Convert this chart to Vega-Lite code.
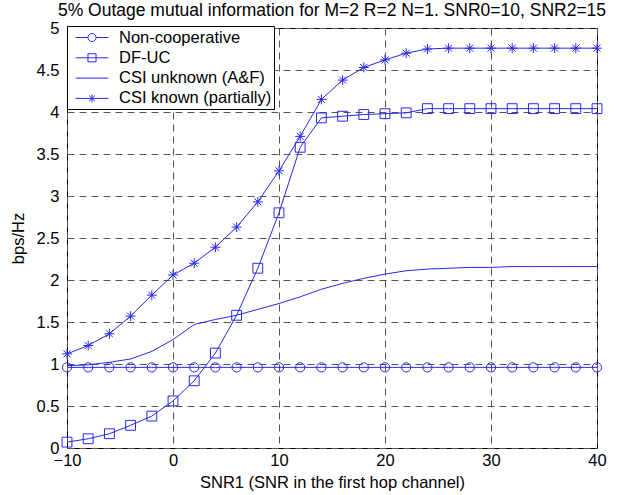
{
  "$schema": "https://vega.github.io/schema/vega-lite/v6.json",
  "autosize": {"type": "none"},
  "width": 530,
  "height": 420,
  "padding": {"left": 67, "top": 28, "right": 33, "bottom": 47},
  "background": "white",
  "title": {"text": "5% Outage mutual information for M=2 R=2 N=1. SNR0=10, SNR2=15", "font": "Liberation Sans", "fontSize": 17.5, "fontWeight": "normal", "color": "black", "offset": 1, "anchor": "middle"},
  "config": {
    "view": {"stroke": "black", "strokeWidth": 1},
    "axis": {"labelFont": "Liberation Sans", "titleFont": "Liberation Sans", "labelFontSize": 16.5, "titleFontSize": 16.5, "titleFontWeight": "normal", "labelColor": "black", "titleColor": "black", "grid": true, "gridColor": "#555555", "gridDash": [7, 5], "gridWidth": 1, "ticks": false, "domain": false, "labelFlush": false, "labelOverlap": false}
  },
  "data": {"values": [
    {"snr": -10, "series": "Non-cooperative", "v": 0.96}, {"snr": -8, "series": "Non-cooperative", "v": 0.96}, {"snr": -6, "series": "Non-cooperative", "v": 0.96}, {"snr": -4, "series": "Non-cooperative", "v": 0.96}, {"snr": -2, "series": "Non-cooperative", "v": 0.96}, {"snr": 0, "series": "Non-cooperative", "v": 0.96}, {"snr": 2, "series": "Non-cooperative", "v": 0.96}, {"snr": 4, "series": "Non-cooperative", "v": 0.96}, {"snr": 6, "series": "Non-cooperative", "v": 0.96}, {"snr": 8, "series": "Non-cooperative", "v": 0.96}, {"snr": 10, "series": "Non-cooperative", "v": 0.96}, {"snr": 12, "series": "Non-cooperative", "v": 0.96}, {"snr": 14, "series": "Non-cooperative", "v": 0.96}, {"snr": 16, "series": "Non-cooperative", "v": 0.96}, {"snr": 18, "series": "Non-cooperative", "v": 0.96}, {"snr": 20, "series": "Non-cooperative", "v": 0.96}, {"snr": 22, "series": "Non-cooperative", "v": 0.96}, {"snr": 24, "series": "Non-cooperative", "v": 0.96}, {"snr": 26, "series": "Non-cooperative", "v": 0.96}, {"snr": 28, "series": "Non-cooperative", "v": 0.96}, {"snr": 30, "series": "Non-cooperative", "v": 0.96}, {"snr": 32, "series": "Non-cooperative", "v": 0.96}, {"snr": 34, "series": "Non-cooperative", "v": 0.96}, {"snr": 36, "series": "Non-cooperative", "v": 0.96}, {"snr": 38, "series": "Non-cooperative", "v": 0.96}, {"snr": 40, "series": "Non-cooperative", "v": 0.96},
    {"snr": -10, "series": "DF-UC", "v": 0.07}, {"snr": -8, "series": "DF-UC", "v": 0.11}, {"snr": -6, "series": "DF-UC", "v": 0.17}, {"snr": -4, "series": "DF-UC", "v": 0.27}, {"snr": -2, "series": "DF-UC", "v": 0.38}, {"snr": 0, "series": "DF-UC", "v": 0.56}, {"snr": 2, "series": "DF-UC", "v": 0.8}, {"snr": 4, "series": "DF-UC", "v": 1.13}, {"snr": 6, "series": "DF-UC", "v": 1.58}, {"snr": 8, "series": "DF-UC", "v": 2.14}, {"snr": 10, "series": "DF-UC", "v": 2.8}, {"snr": 12, "series": "DF-UC", "v": 3.58}, {"snr": 14, "series": "DF-UC", "v": 3.93}, {"snr": 16, "series": "DF-UC", "v": 3.95}, {"snr": 18, "series": "DF-UC", "v": 3.97}, {"snr": 20, "series": "DF-UC", "v": 3.98}, {"snr": 22, "series": "DF-UC", "v": 3.99}, {"snr": 24, "series": "DF-UC", "v": 4.04}, {"snr": 26, "series": "DF-UC", "v": 4.04}, {"snr": 28, "series": "DF-UC", "v": 4.04}, {"snr": 30, "series": "DF-UC", "v": 4.04}, {"snr": 32, "series": "DF-UC", "v": 4.04}, {"snr": 34, "series": "DF-UC", "v": 4.04}, {"snr": 36, "series": "DF-UC", "v": 4.04}, {"snr": 38, "series": "DF-UC", "v": 4.04}, {"snr": 40, "series": "DF-UC", "v": 4.04},
    {"snr": -10, "series": "CSI unknown (A&F)", "v": 0.98}, {"snr": -8, "series": "CSI unknown (A&F)", "v": 0.99}, {"snr": -6, "series": "CSI unknown (A&F)", "v": 1.02}, {"snr": -4, "series": "CSI unknown (A&F)", "v": 1.06}, {"snr": -2, "series": "CSI unknown (A&F)", "v": 1.15}, {"snr": 0, "series": "CSI unknown (A&F)", "v": 1.29}, {"snr": 2, "series": "CSI unknown (A&F)", "v": 1.47}, {"snr": 4, "series": "CSI unknown (A&F)", "v": 1.53}, {"snr": 6, "series": "CSI unknown (A&F)", "v": 1.58}, {"snr": 8, "series": "CSI unknown (A&F)", "v": 1.65}, {"snr": 10, "series": "CSI unknown (A&F)", "v": 1.72}, {"snr": 12, "series": "CSI unknown (A&F)", "v": 1.8}, {"snr": 14, "series": "CSI unknown (A&F)", "v": 1.89}, {"snr": 16, "series": "CSI unknown (A&F)", "v": 1.96}, {"snr": 18, "series": "CSI unknown (A&F)", "v": 2.02}, {"snr": 20, "series": "CSI unknown (A&F)", "v": 2.07}, {"snr": 22, "series": "CSI unknown (A&F)", "v": 2.11}, {"snr": 24, "series": "CSI unknown (A&F)", "v": 2.13}, {"snr": 26, "series": "CSI unknown (A&F)", "v": 2.14}, {"snr": 28, "series": "CSI unknown (A&F)", "v": 2.15}, {"snr": 30, "series": "CSI unknown (A&F)", "v": 2.15}, {"snr": 32, "series": "CSI unknown (A&F)", "v": 2.16}, {"snr": 34, "series": "CSI unknown (A&F)", "v": 2.16}, {"snr": 36, "series": "CSI unknown (A&F)", "v": 2.16}, {"snr": 38, "series": "CSI unknown (A&F)", "v": 2.16}, {"snr": 40, "series": "CSI unknown (A&F)", "v": 2.16},
    {"snr": -10, "series": "CSI known (partially)", "v": 1.12}, {"snr": -8, "series": "CSI known (partially)", "v": 1.22}, {"snr": -6, "series": "CSI known (partially)", "v": 1.36}, {"snr": -4, "series": "CSI known (partially)", "v": 1.57}, {"snr": -2, "series": "CSI known (partially)", "v": 1.82}, {"snr": 0, "series": "CSI known (partially)", "v": 2.06}, {"snr": 2, "series": "CSI known (partially)", "v": 2.2}, {"snr": 4, "series": "CSI known (partially)", "v": 2.39}, {"snr": 6, "series": "CSI known (partially)", "v": 2.63}, {"snr": 8, "series": "CSI known (partially)", "v": 2.93}, {"snr": 10, "series": "CSI known (partially)", "v": 3.3}, {"snr": 12, "series": "CSI known (partially)", "v": 3.71}, {"snr": 14, "series": "CSI known (partially)", "v": 4.15}, {"snr": 16, "series": "CSI known (partially)", "v": 4.38}, {"snr": 18, "series": "CSI known (partially)", "v": 4.53}, {"snr": 20, "series": "CSI known (partially)", "v": 4.62}, {"snr": 22, "series": "CSI known (partially)", "v": 4.7}, {"snr": 24, "series": "CSI known (partially)", "v": 4.75}, {"snr": 26, "series": "CSI known (partially)", "v": 4.76}, {"snr": 28, "series": "CSI known (partially)", "v": 4.76}, {"snr": 30, "series": "CSI known (partially)", "v": 4.76}, {"snr": 32, "series": "CSI known (partially)", "v": 4.76}, {"snr": 34, "series": "CSI known (partially)", "v": 4.76}, {"snr": 36, "series": "CSI known (partially)", "v": 4.76}, {"snr": 38, "series": "CSI known (partially)", "v": 4.76}, {"snr": 40, "series": "CSI known (partially)", "v": 4.76}
  ]},
  "encoding": {
    "x": {"field": "snr", "type": "quantitative", "scale": {"domain": [-10, 40], "nice": false, "zero": false}, "axis": {"values": [-10, 0, 10, 20, 30, 40], "title": "SNR1 (SNR in the first hop channel)", "labelPadding": 4, "titlePadding": 6}},
    "y": {"field": "v", "type": "quantitative", "scale": {"domain": [0, 5], "nice": false}, "axis": {"values": [0, 0.5, 1, 1.5, 2, 2.5, 3, 3.5, 4, 4.5, 5], "format": "~g", "title": "bps/Hz", "labelPadding": 8, "titlePadding": 10}}
  },
  "layer": [
    {
      "mark": {"type": "line", "color": "#2828f0", "strokeWidth": 1},
      "encoding": {"detail": {"field": "series"}}
    },
    {
      "transform": [{"filter": "datum.series != 'CSI unknown (A&F)'"}],
      "mark": {"type": "point", "filled": false, "color": "#2828f0", "strokeWidth": 1, "opacity": 1},
      "encoding": {
        "shape": {"field": "series", "type": "nominal", "legend": null, "scale": {"domain": ["Non-cooperative", "DF-UC", "CSI unknown (A&F)", "CSI known (partially)"], "range": ["circle", "square", "M0,0", "M0,-0.9V0.9M-0.9,0H0.9M-0.64,-0.64L0.64,0.64M-0.64,0.64L0.64,-0.64"]}},
        "size": {"field": "series", "type": "nominal", "legend": null, "scale": {"domain": ["Non-cooperative", "DF-UC", "CSI unknown (A&F)", "CSI known (partially)"], "range": [85, 120, 10, 110]}}
      }
    },
    {
      "transform": [{"filter": "datum.snr == 40"}],
      "mark": {"type": "point", "filled": false, "color": "#2828f0", "opacity": 0},
      "encoding": {
        "shape": {"field": "series", "type": "nominal", "title": null,
          "scale": {"domain": ["Non-cooperative", "DF-UC", "CSI unknown (A&F)", "CSI known (partially)"], "range": [
            "M-0.33,0H1.05M1.95,0H3.33M1.05,0A0.45,0.45 0 1,0 1.95,0A0.45,0.45 0 1,0 1.05,0",
            "M-0.33,0H3.33M1.05,-0.45H1.95V0.45H1.05Z",
            "M-0.33,0H3.33",
            "M-0.33,0H3.33M1.5,-0.45V0.45M1.18,-0.32L1.82,0.32M1.18,0.32L1.82,-0.32"
          ]},
          "legend": {"orient": "none", "legendX": 0, "legendY": -2, "direction": "vertical", "symbolSize": 324, "symbolOpacity": 1, "symbolStrokeColor": "#2828f0", "symbolStrokeWidth": 1, "symbolFillColor": "transparent", "labelFont": "Liberation Sans", "labelFontSize": 16.5, "labelColor": "black", "labelOffset": 31, "rowPadding": 2.3, "fillColor": "white", "strokeColor": "black", "padding": 2, "labelLimit": 300}
        }
      }
    }
  ],
  "resolve": {"scale": {"shape": "independent"}, "legend": {"shape": "independent"}}
}
